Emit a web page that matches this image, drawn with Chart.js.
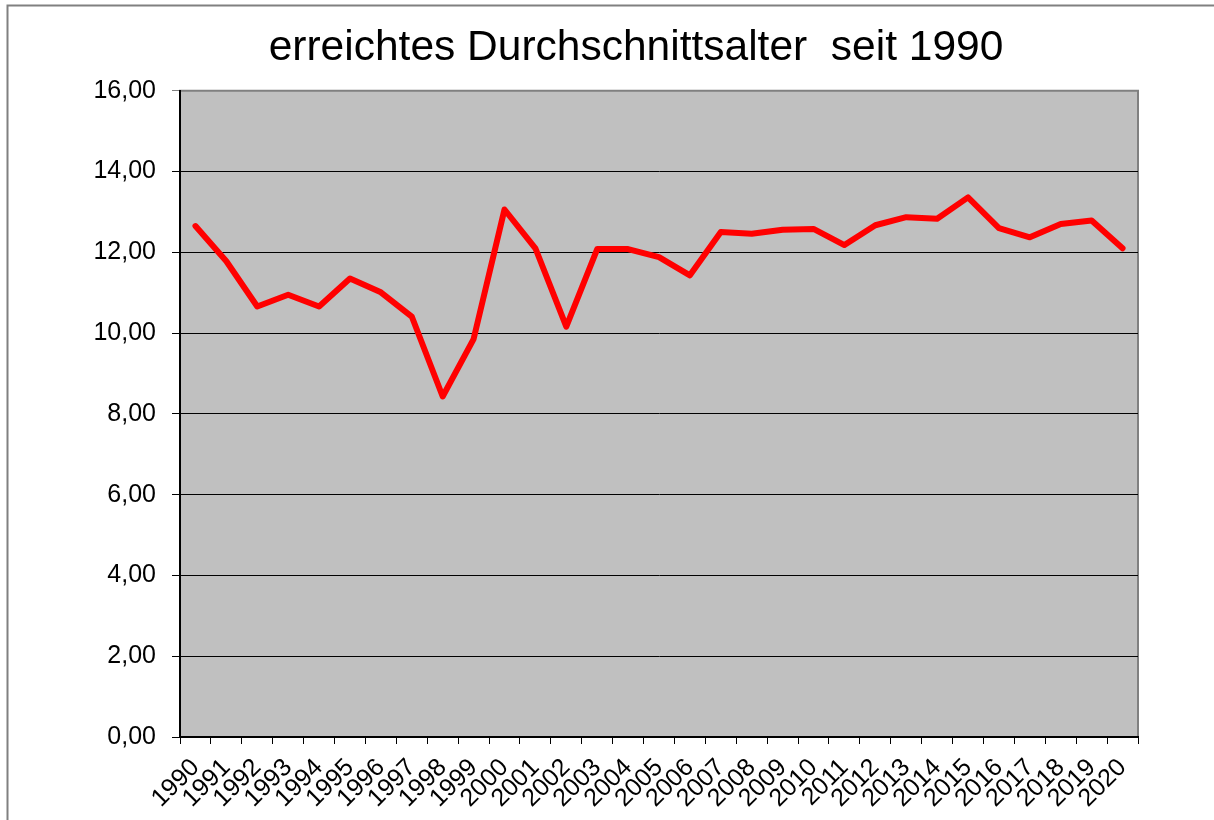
<!DOCTYPE html>
<html>
<head>
<meta charset="utf-8">
<script src="https://cdn.jsdelivr.net/npm/chart.js@4"></script>
<style>
  html, body { margin: 0; padding: 0; background: #fff; }
  #wrap { position: relative; width: 1214px; height: 820px; }
</style>
</head>
<body>
<div id="wrap"><canvas id="chart" width="1214" height="820"></canvas></div>
<script>
// data
const years = ["1990","1991","1992","1993","1994","1995","1996","1997","1998","1999",
               "2000","2001","2002","2003","2004","2005","2006","2007","2008","2009",
               "2010","2011","2012","2013","2014","2015","2016","2017","2018","2019","2020"];
const avgAge = [12.65, 11.78, 10.66, 10.95, 10.66, 11.35, 11.01, 10.41, 8.43, 9.85,
                13.06, 12.10, 10.16, 12.08, 12.08, 11.88, 11.43, 12.50, 12.46, 12.56,
                12.58, 12.18, 12.67, 12.87, 12.83, 13.36, 12.60, 12.37, 12.70, 12.79, 12.10];
const yTicks = [0, 2, 4, 6, 8, 10, 12, 14, 16];

const FONT = "'Liberation Sans', Arial, sans-serif";

// grey plot background, grey frame, outer frame of the picture
const frames = {
    id: "frames",
    afterLayout(chart) {
        // the original title is centred a bit left of the plot centre
        if (chart.titleBlock) {
            chart.titleBlock.left = 134;
            chart.titleBlock.right = 1138;
            chart.titleBlock.width = 1138 - 134;
        }
    },
    beforeDraw(chart) {
        let ctx = chart.ctx;
        let a = chart.chartArea;
        ctx.save();
        ctx.fillStyle = "#c0c0c0";
        ctx.fillRect(a.left, a.top, a.right - a.left, a.bottom - a.top);
        ctx.strokeStyle = "#808080";
        ctx.lineWidth = 2;
        ctx.strokeRect(a.left, a.top, a.right - a.left, a.bottom - a.top);
        ctx.beginPath();
        ctx.moveTo(7.5, 820);
        ctx.lineTo(7.5, 5.5);
        ctx.lineTo(1214, 5.5);
        ctx.stroke();
        ctx.restore();
    }
};

new Chart(document.getElementById("chart"), {
    type: "line",
    data: {
        labels: years,
        datasets: [{
            data: avgAge,
            borderColor: "#ff0000",
            borderWidth: 6,
            borderJoinStyle: "round",
            borderCapStyle: "round",
            pointRadius: 0,
            tension: 0,
            fill: false
        }]
    },
    options: {
        responsive: false,
        animation: false,
        layout: { padding: { left: 0, right: 76, top: 0, bottom: 0 } },
        plugins: {
            legend: { display: false },
            tooltip: { enabled: false },
            title: {
                display: true,
                text: "erreichtes Durchschnittsalter  seit 1990",
                color: "#000",
                font: { family: FONT, size: 42.5, weight: "normal", lineHeight: 1.1 },
                padding: { top: 25, bottom: 19 }
            }
        },
        scales: {
            x: {
                offset: true,
                grid: {
                    offset: true,
                    drawOnChartArea: false,
                    drawTicks: true,
                    tickLength: 7,
                    color: "#000"
                },
                border: { color: "#000", width: 2 },
                ticks: {
                    color: "#000",
                    font: { family: FONT, size: 25 },
                    maxRotation: 45,
                    minRotation: 45,
                    autoSkip: false,
                    padding: 9
                },
                afterFit(scale) { scale.height = 83; }
            },
            y: {
                min: 0,
                max: 16,
                afterBuildTicks(scale) { scale.ticks = yTicks.map(v => ({ value: v })); },
                grid: {
                    color: ctx => ctx.tick && ctx.tick.value === 16 ? "#808080" : "#000",
                    lineWidth: 1,
                    tickLength: 8
                },
                border: { color: "#000", width: 2 },
                ticks: {
                    color: "#000",
                    font: { family: FONT, size: 25 },
                    padding: 16,
                    callback: v => v.toFixed(2).replace(".", ",")
                },
                afterFit(scale) { scale.width = 180; }
            }
        }
    },
    plugins: [frames]
});
</script>
</body>
</html>
